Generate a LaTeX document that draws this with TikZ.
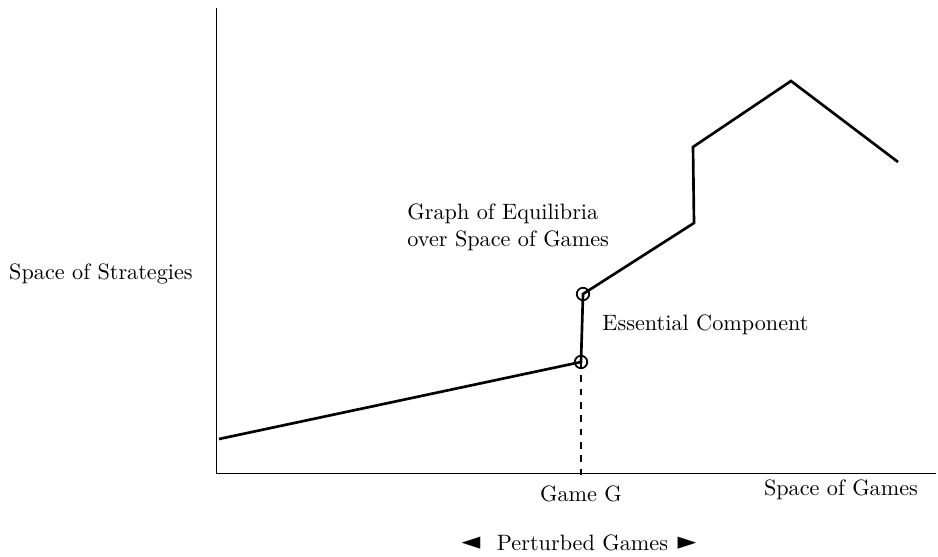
\documentclass[tikz,border=0pt]{standalone}
\usepackage{fontspec}
\newfontfamily\symfont{DejaVu Sans}
\begin{document}
\begin{tikzpicture}[x=0.45pt,y=-0.45pt,
  axis/.style={line width=0.4pt},
  graphline/.style={line width=1.2pt, line join=miter},
  eqdot/.style={circle, draw, line width=0.8pt, minimum size=5.6pt, inner sep=0pt},
  lbl/.style={inner sep=0pt, font=\fontsize{10}{12}\selectfont},
  tri/.style={inner sep=0pt, font=\symfont\fontsize{11}{12}\selectfont}]
\useasboundingbox (0,0) rectangle (938,557);
% axes
\coordinate (ytop) at (216,8);
\coordinate (orig) at (216,473);
\coordinate (xend) at (936,473);
\draw[axis] (ytop) -- (orig) -- (xend);
% graph points
\coordinate (p0) at (219,439);
\coordinate (p1) at (581,362);
\coordinate (p2) at (583,294);
\coordinate (p3) at (694,223);
\coordinate (p4) at (693,147);
\coordinate (p5) at (791,81);
\coordinate (p6) at (898,162);
\coordinate (gg) at (581,480);
\draw[graphline] (p0) -- (p1) -- (p2) -- (p3) -- (p4) -- (p5) -- (p6);
\draw[dashed, line width=0.5pt] (p1) -- (gg);
\node[eqdot] (c1) at (p1) {};
\node[eqdot] (c2) at (p2) {};
% labels
\node[lbl] (sos) at (101,274) {Space of Strategies};
\node[lbl, anchor=west, align=left] (goe) at (407,227) {Graph of Equilibria\\over Space of Games};
\node[lbl, anchor=west] (ec) at (602,325) {Essential Component};
\node[lbl] (gameg) at (581,494) {Game G};
\node[lbl] (sog) at (841,490) {Space of Games};
\node[lbl] (pg) at (582.5,543) {Perturbed Games};
\node[tri] (tl) at (471,543) {◄};
\node[tri] (tr) at (687,543) {►};
\end{tikzpicture}
\end{document}
